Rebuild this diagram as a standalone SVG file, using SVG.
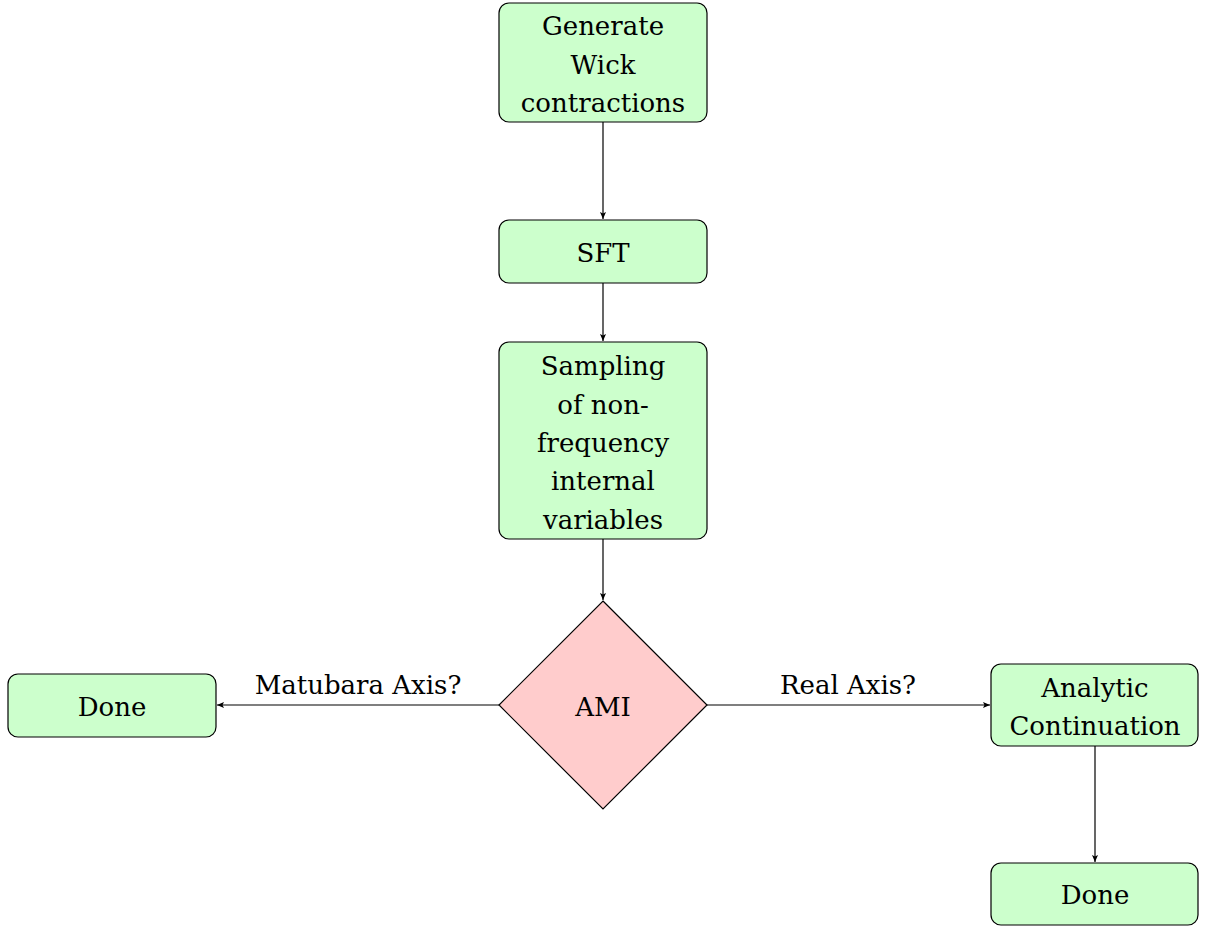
<svg xmlns="http://www.w3.org/2000/svg" width="1205" height="926" viewBox="0 0 1205 926">
<style>
.box{fill:#ccffcc;stroke:#000;stroke-width:1.2}
.dia{fill:#ffcccc;stroke:#000;stroke-width:1.2}
text{font-family:"DejaVu Serif","Liberation Serif",serif;font-size:26px;fill:#000;text-anchor:middle}
.edge{stroke:#000;stroke-width:1.2;fill:none;marker-end:url(#ah)}
</style>
<defs>
<marker id="ah" markerWidth="8" markerHeight="8" refX="7" refY="4" orient="auto" markerUnits="userSpaceOnUse">
<path d="M0,1 L7,4 L0,7 L1.5,4 Z" fill="#000"/>
</marker>
</defs>
<rect width="1205" height="926" fill="#fff"/>
<g id="connectors">
<line class="edge" x1="603" y1="122" x2="603" y2="219"/>
<line class="edge" x1="603" y1="283" x2="603" y2="341"/>
<line class="edge" x1="603" y1="539" x2="603" y2="600"/>
<line class="edge" x1="499" y1="705" x2="217" y2="705"/>
<line class="edge" x1="707" y1="705" x2="990" y2="705"/>
<line class="edge" x1="1095" y1="746" x2="1095" y2="862"/>
<text x="358" y="694">Matubara Axis?</text>
<text x="848" y="694">Real Axis?</text>
</g>
<g id="gen">
<rect class="box" x="499" y="3" width="208" height="119" rx="10"/>
<text x="603" y="35">Generate</text>
<text x="603" y="74">Wick</text>
<text x="603" y="112">contractions</text>
</g>
<g id="sft">
<rect class="box" x="499" y="220" width="208" height="63" rx="10"/>
<text x="603" y="262">SFT</text>
</g>
<g id="sampling">
<rect class="box" x="499" y="342" width="208" height="197" rx="10"/>
<text x="603" y="375">Sampling</text>
<text x="603" y="414">of non-</text>
<text x="603" y="452">frequency</text>
<text x="603" y="490">internal</text>
<text x="603" y="529">variables</text>
</g>
<g id="ami">
<polygon class="dia" points="603,601 707,705 603,809 499,705"/>
<text x="603" y="716">AMI</text>
</g>
<g id="done1">
<rect class="box" x="8" y="674" width="208" height="63" rx="10"/>
<text x="112" y="716">Done</text>
</g>
<g id="analytic">
<rect class="box" x="991" y="664" width="207" height="82" rx="10"/>
<text x="1095" y="697">Analytic</text>
<text x="1095" y="735">Continuation</text>
</g>
<g id="done2">
<rect class="box" x="991" y="863" width="207" height="62" rx="10"/>
<text x="1095" y="904">Done</text>
</g>
</svg>
